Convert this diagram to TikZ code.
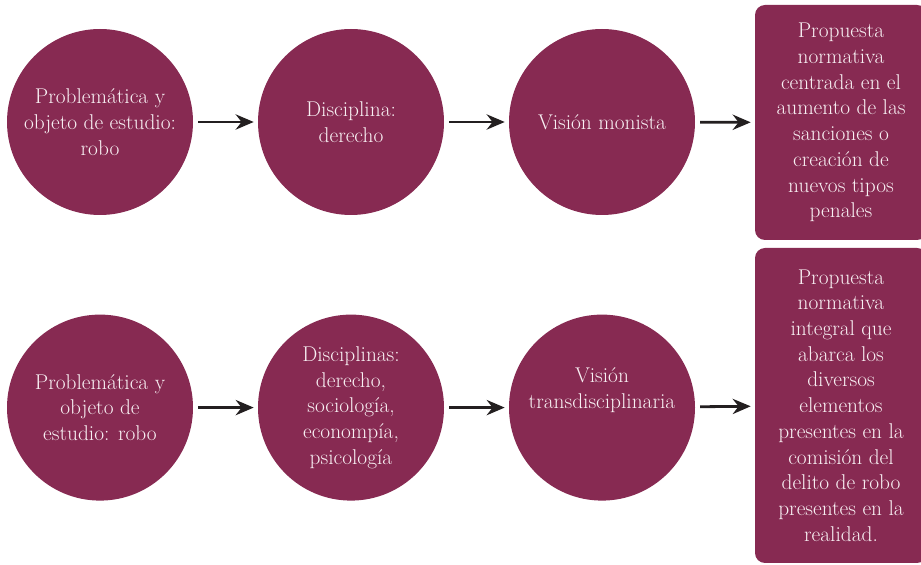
\documentclass[tikz,border=0pt]{standalone}
\usepackage{fontspec}
\usepackage{tikz}
\usetikzlibrary{arrows.meta,positioning}
\definecolor{rvino}{HTML}{872A52}
\definecolor{rtexto}{HTML}{F8F0F3}
\definecolor{rflecha}{HTML}{231F20}
\newcommand{\rletra}{\fontsize{15.2pt}{18.3pt}\selectfont}
\tikzset{
  >={Stealth[length=4.5mm, width=3.8mm]},
  rcirc/.style={circle, fill=rvino, draw=none, minimum size=46.5mm,
                inner sep=0pt, align=center, text=rtexto, font=\rletra},
  rbox/.style={rounded corners=2.5mm, fill=rvino, draw=none, align=center,
               text=rtexto, font=\rletra, minimum width=43mm, inner sep=0pt},
  rflow/.style={->, rflecha, line width=0.7mm, shorten <=1.2mm, shorten >=1mm},
}

\begin{document}
\begin{tikzpicture}[x=1cm,y=1cm]
  \useasboundingbox (0,0) rectangle (23.025,-14.125);

  % fila de arriba
  \node[rcirc] (p1) at (2.5,-3.05) {Problemática y\\objeto de estudio:\\robo};
  \node[rcirc] (d1) at (8.775,-3.05) {Disciplina:\\derecho};
  \node[rcirc] (v1) at (15.05,-3.05) {Visión monista};
  \node[rbox, minimum height=58.75mm] (b1) at (21.025,-3.0625)
    {Propuesta\\normativa\\centrada en el\\aumento de las\\sanciones o\\creación de\\nuevos tipos\\penales};

  % fila de abajo
  \node[rcirc] (p2) at (2.5,-10.19) {Problemática y\\objeto de\\estudio: robo};
  \node[rcirc] (d2) at (8.775,-10.19) {Disciplinas:\\derecho,\\sociología,\\econompía,\\psicología};
  \node[rcirc] (v2) at (15.05,-10.19) {Visión\\transdisciplinaria\\[9pt]\mbox{}};
  \node[rbox, minimum height=78.75mm] (b2) at (21.025,-10.1375)
    {Propuesta\\normativa\\integral que\\abarca los\\diversos\\elementos\\presentes en la\\comisión del\\delito de robo\\presentes en la\\realidad.};

  % flechas
  \foreach \a/\b in {p1/d1, d1/v1, v1/b1, p2/d2, d2/v2, v2/b2}
    \draw[rflow] (\a) -- (\b);

\end{tikzpicture}
\end{document}
